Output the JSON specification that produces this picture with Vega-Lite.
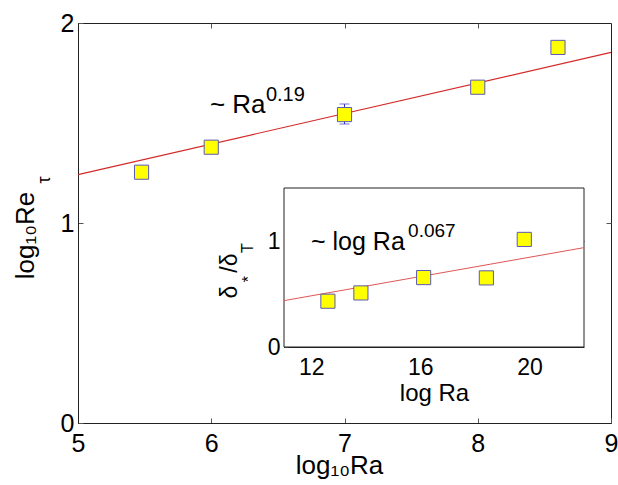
{
  "$schema": "https://vega.github.io/schema/vega-lite/v6.json",
  "width": 533,
  "height": 400,
  "autosize": "none",
  "padding": {"left": 78, "top": 23, "right": 7, "bottom": 62},
  "config": {
    "view": {"stroke": "#222222", "strokeWidth": 1},
    "axis": {
      "grid": false,
      "labelFont": "Liberation Sans",
      "titleFont": "Liberation Sans",
      "labelColor": "black",
      "titleColor": "black",
      "titleFontWeight": "normal",
      "domainColor": "#222222",
      "tickColor": "#555555",
      "zindex": 1,
      "labelFlush": false,
      "labelOverlap": false,
      "format": "d"
    },
    "text": {"font": "Liberation Sans", "color": "black"}
  },
  "datasets": {
    "mainFit": [{"x": 5, "y": 1.242}, {"x": 9, "y": 1.853}],
    "mainErr": [{"x": 7, "y": 1.495, "y2": 1.595}],
    "mainPts": [
      {"x": 5.477, "y": 1.254},
      {"x": 6.0, "y": 1.379},
      {"x": 7.0, "y": 1.542},
      {"x": 8.0, "y": 1.679},
      {"x": 8.602, "y": 1.878}
    ],
    "mainLabel": [{"x": 5.99, "y": 1.5515, "label": "~ Ra"}],
    "mainSup": [{"x": 6.41, "y": 1.6115, "label": "0.19"}],
    "mainSub": [{"x": 4.79, "y": 1.215, "label": "τ"}],
    "insetFrame": [{"x": 11, "x2": 22, "y": 0, "y2": 1.5}],
    "insetFit": [{"x": 11, "y": 0.4375}, {"x": 22, "y": 0.9375}],
    "insetPts": [
      {"x": 12.61, "y": 0.432},
      {"x": 13.82, "y": 0.51},
      {"x": 16.12, "y": 0.655},
      {"x": 18.42, "y": 0.652},
      {"x": 19.81, "y": 1.015}
    ],
    "insetLabel": [{"x": 11.99, "y": 0.918, "label": "~ log Ra"}],
    "insetSup": [{"x": 15.55, "y": 1.034, "label": "0.067"}],
    "insetTitleMain": [
      {"x": 9.277, "y": 0.519, "label": "δ"},
      {"x": 9.277, "y": 0.792, "label": "/δ"}
    ],
    "insetTitleSub": [
      {"x": 9.90, "y": 0.64, "label": "*"},
      {"x": 9.863, "y": 0.934, "label": "T"}
    ]
  },
  "layer": [
    {
      "layer": [
        {
          "data": {"name": "mainFit"},
          "mark": {"type": "line", "color": "#d42a2a", "strokeWidth": 1.2},
          "encoding": {
            "x": {
              "field": "x", "type": "quantitative", "title": "log₁₀Ra",
              "scale": {"domain": [5, 9], "nice": false, "zero": false},
              "axis": {
                "orient": "bottom", "values": [5, 6, 7, 8, 9], "tickSize": -5,
                "labelPadding": 13, "labelFontSize": 25,
                "titleFontSize": 26, "titleY": 50, "titleX": 261,
                "titleBaseline": "alphabetic"
              }
            },
            "y": {
              "field": "y", "type": "quantitative", "title": "log₁₀Re",
              "scale": {"domain": [0, 2], "nice": false, "zero": false},
              "axis": {
                "orient": "left", "values": [0, 1, 2], "tickSize": -5,
                "labelPadding": 9, "labelFontSize": 25,
                "titleFontSize": 26, "titleAngle": 270,
                "titleX": -45, "titleY": 212, "titleAlign": "center", "titleBaseline": "alphabetic"
              }
            }
          }
        },
        {
          "data": {"name": "mainErr"},
          "mark": {"type": "errorbar", "color": "#3333cc", "ticks": {"size": 10, "color": "#3333cc"}},
          "encoding": {
            "x": {"field": "x", "type": "quantitative", "title": "log₁₀Ra"},
            "y": {"field": "y", "type": "quantitative", "title": "log₁₀Re"},
            "y2": {"field": "y2"}
          }
        },
        {
          "data": {"name": "mainPts"},
          "mark": {"type": "point", "shape": "square", "filled": true, "fill": "#ffff00", "fillOpacity": 1, "stroke": "#5a5ab4", "strokeWidth": 1, "size": 200, "opacity": 1},
          "encoding": {
            "x": {"field": "x", "type": "quantitative", "title": "log₁₀Ra"},
            "y": {"field": "y", "type": "quantitative", "title": "log₁₀Re"}
          }
        },
        {
          "data": {"name": "mainLabel"},
          "mark": {"type": "text", "fontSize": 26, "align": "left", "baseline": "alphabetic"},
          "encoding": {
            "x": {"field": "x", "type": "quantitative", "title": "log₁₀Ra"},
            "y": {"field": "y", "type": "quantitative", "title": "log₁₀Re"},
            "text": {"field": "label"}
          }
        },
        {
          "data": {"name": "mainSup"},
          "mark": {"type": "text", "fontSize": 20, "align": "left", "baseline": "alphabetic"},
          "encoding": {
            "x": {"field": "x", "type": "quantitative", "title": "log₁₀Ra"},
            "y": {"field": "y", "type": "quantitative", "title": "log₁₀Re"},
            "text": {"field": "label"}
          }
        },
        {
          "data": {"name": "mainSub"},
          "mark": {"type": "text", "fontSize": 18, "align": "center", "baseline": "alphabetic", "angle": 270},
          "encoding": {
            "x": {"field": "x", "type": "quantitative", "title": "log₁₀Ra"},
            "y": {"field": "y", "type": "quantitative", "title": "log₁₀Re"},
            "text": {"field": "label"}
          }
        }
      ]
    },
    {
      "data": {"name": "mainFit"},
      "mark": {"type": "line", "strokeOpacity": 0},
      "encoding": {
        "x": {
          "field": "x", "type": "quantitative",
          "scale": {"domain": [5, 9], "nice": false, "zero": false},
          "axis": {"orient": "top", "values": [6, 7, 8], "tickSize": -5, "labels": false, "domain": false, "title": null}
        },
        "y": {
          "field": "y", "type": "quantitative",
          "scale": {"domain": [0, 2], "nice": false, "zero": false},
          "axis": {"orient": "right", "values": [1], "tickSize": -5, "labels": false, "domain": false, "title": null}
        }
      }
    },
    {
      "layer": [
        {
          "data": {"name": "insetFrame"},
          "mark": {"type": "rect", "fill": "white", "stroke": "#222222", "strokeWidth": 1},
          "encoding": {
            "x": {
              "field": "x", "type": "quantitative", "title": "log Ra",
              "scale": {"domain": [11, 22], "range": [206, 506], "nice": false, "zero": false},
              "axis": {
                "orient": "bottom", "offset": -76, "values": [12, 16, 20], "tickSize": -4,
                "labelPadding": 13, "labelFontSize": 23,
                "titleFontSize": 24, "titleY": 53, "titleBaseline": "alphabetic"
              }
            },
            "x2": {"field": "x2"},
            "y": {
              "field": "y", "type": "quantitative", "title": null,
              "scale": {"domain": [0, 1.5], "range": [324, 165], "nice": false, "zero": false},
              "axis": {
                "orient": "left", "offset": -206, "values": [0, 1], "tickSize": -4,
                "labelPadding": 8, "labelFontSize": 23, "title": null
              }
            },
            "y2": {"field": "y2"}
          }
        },
        {
          "data": {"name": "insetFit"},
          "mark": {"type": "line", "color": "#e05555", "strokeWidth": 1},
          "encoding": {
            "x": {"field": "x", "type": "quantitative", "title": "log Ra"},
            "y": {"field": "y", "type": "quantitative", "title": null}
          }
        },
        {
          "data": {"name": "insetPts"},
          "mark": {"type": "point", "shape": "square", "filled": true, "fill": "#ffff00", "fillOpacity": 1, "stroke": "#5a5ab4", "strokeWidth": 1, "size": 200, "opacity": 1},
          "encoding": {
            "x": {"field": "x", "type": "quantitative", "title": "log Ra"},
            "y": {"field": "y", "type": "quantitative", "title": null}
          }
        },
        {
          "data": {"name": "insetLabel"},
          "mark": {"type": "text", "fontSize": 25, "align": "left", "baseline": "alphabetic"},
          "encoding": {
            "x": {"field": "x", "type": "quantitative", "title": "log Ra"},
            "y": {"field": "y", "type": "quantitative", "title": null},
            "text": {"field": "label"}
          }
        },
        {
          "data": {"name": "insetSup"},
          "mark": {"type": "text", "fontSize": 19, "align": "left", "baseline": "alphabetic"},
          "encoding": {
            "x": {"field": "x", "type": "quantitative", "title": "log Ra"},
            "y": {"field": "y", "type": "quantitative", "title": null},
            "text": {"field": "label"}
          }
        },
        {
          "data": {"name": "insetTitleMain"},
          "mark": {"type": "text", "fontSize": 23, "align": "center", "baseline": "alphabetic", "angle": 270},
          "encoding": {
            "x": {"field": "x", "type": "quantitative", "title": "log Ra"},
            "y": {"field": "y", "type": "quantitative", "title": null},
            "text": {"field": "label"}
          }
        },
        {
          "data": {"name": "insetTitleSub"},
          "mark": {"type": "text", "fontSize": 16, "align": "center", "baseline": "alphabetic", "angle": 270},
          "encoding": {
            "x": {"field": "x", "type": "quantitative", "title": "log Ra"},
            "y": {"field": "y", "type": "quantitative", "title": null},
            "text": {"field": "label"}
          }
        }
      ]
    },
    {
      "data": {"name": "insetFit"},
      "mark": {"type": "line", "strokeOpacity": 0},
      "encoding": {
        "x": {
          "field": "x", "type": "quantitative",
          "scale": {"domain": [11, 22], "range": [206, 506], "nice": false, "zero": false},
          "axis": {"orient": "top", "offset": -165, "values": [12, 16, 20], "tickSize": -4, "labels": false, "domain": false, "title": null}
        },
        "y": {
          "field": "y", "type": "quantitative",
          "scale": {"domain": [0, 1.5], "range": [324, 165], "nice": false, "zero": false},
          "axis": {"orient": "right", "offset": -27, "values": [1], "tickSize": -4, "labels": false, "domain": false, "title": null}
        }
      }
    }
  ],
  "resolve": {"scale": {"x": "independent", "y": "independent"}}
}
